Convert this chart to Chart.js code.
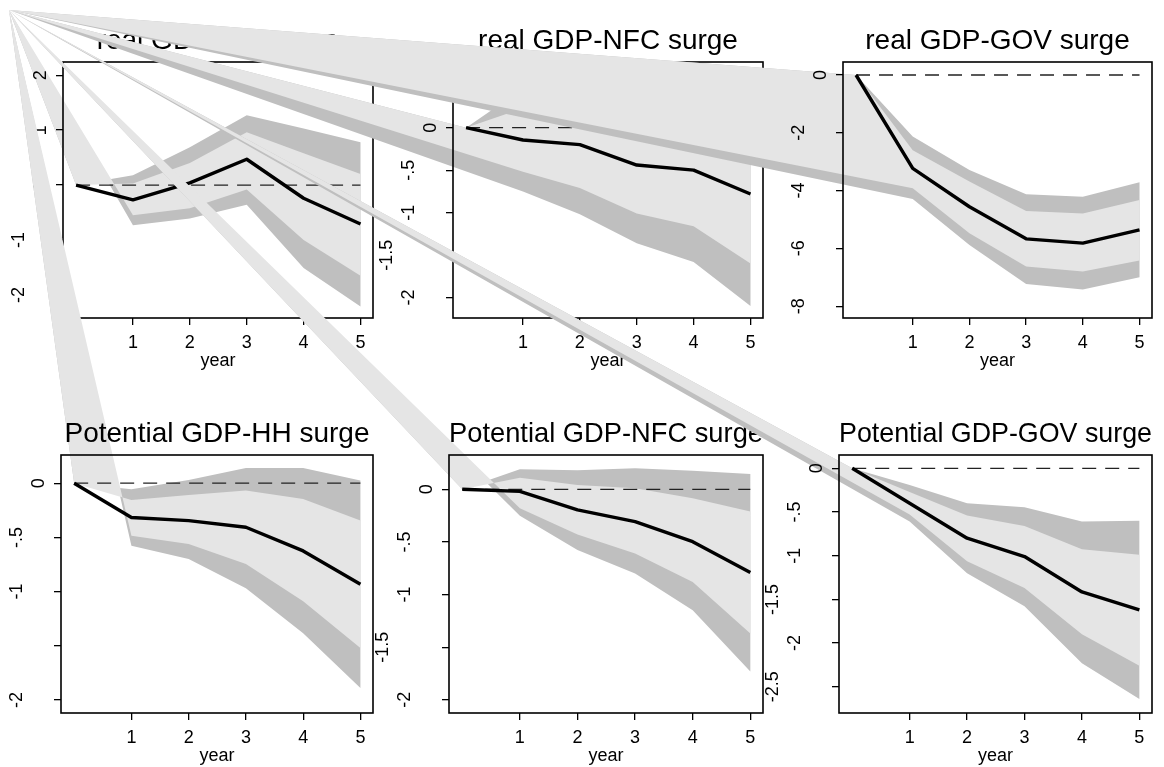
<!DOCTYPE html>
<html>
<head>
<meta charset="utf-8">
<script src="https://cdn.jsdelivr.net/npm/chart.js@4.4.1/dist/chart.umd.min.js"></script>
<style>
  html, body { margin: 0; padding: 0; background: #fff; }
  #wrap { position: relative; width: 1164px; height: 767px; overflow: hidden; }
  #wrap canvas { position: absolute; left: 0; top: 0; }
</style>
</head>
<body>
<div id="wrap"></div>
<script>
// horizon (years after the surge)
const years = [0, 1, 2, 3, 4, 5];
const xTicks = [1, 2, 3, 4, 5];

// real GDP - HH surge
const realHH = [0, -0.27, 0.04, 0.47, -0.24, -0.71];
const realHH_inHi = [0, 0.03, 0.40, 0.96, 0.58, 0.20];
const realHH_inLo = [0, -0.55, -0.42, -0.08, -1.00, -1.65];
const realHH_outHi = [0, 0.18, 0.69, 1.27, 1.03, 0.78];
const realHH_outLo = [0, -0.73, -0.61, -0.36, -1.51, -2.21];
const realHH_yTicks = [2, 1, 0, -1, -2];

// real GDP - NFC surge
const realNFC = [0, -0.145, -0.20, -0.44, -0.50, -0.78];
const realNFC_inHi = [0, 0.23, 0.31, 0.13, 0.16, 0.04];
const realNFC_inLo = [0, -0.52, -0.71, -1.01, -1.16, -1.60];
const realNFC_outHi = [0, 0.46, 0.62, 0.48, 0.58, 0.54];
const realNFC_outLo = [0, -0.75, -1.02, -1.36, -1.58, -2.10];
const realNFC_yTicks = [0, -0.5, -1, -1.5, -2];

// real GDP - GOV surge
const realGOV = [0, -3.23, -4.56, -5.67, -5.82, -5.36];
const realGOV_inHi = [0, -2.60, -3.69, -4.71, -4.79, -4.33];
const realGOV_inLo = [0, -3.92, -5.48, -6.63, -6.80, -6.42];
const realGOV_outHi = [0, -2.13, -3.29, -4.13, -4.21, -3.71];
const realGOV_outLo = [0, -4.29, -5.88, -7.23, -7.42, -7.00];
const realGOV_yTicks = [0, -2, -4, -6, -8];

// potential GDP - HH surge
const potHH = [0, -0.317, -0.345, -0.406, -0.625, -0.932];
const potHH_inHi = [0, -0.154, -0.108, -0.068, -0.145, -0.345];
const potHH_inLo = [0, -0.486, -0.56, -0.745, -1.09, -1.52];
const potHH_outHi = [0, -0.055, 0.03, 0.14, 0.14, 0.025];
const potHH_outLo = [0, -0.578, -0.70, -0.97, -1.385, -1.89];
const potHH_yTicks = [0, -0.5, -1, -1.5, -2];

// potential GDP - NFC surge
const potNFC = [0, -0.02, -0.196, -0.307, -0.497, -0.79];
const potNFC_inHi = [0, 0.11, 0.04, 0.01, -0.085, -0.21];
const potNFC_inLo = [0, -0.18, -0.43, -0.61, -0.88, -1.37];
const potNFC_outHi = [0, 0.19, 0.18, 0.20, 0.177, 0.146];
const potNFC_outLo = [0, -0.25, -0.576, -0.80, -1.15, -1.73];
const potNFC_yTicks = [0, -0.5, -1, -1.5, -2];

// potential GDP - GOV surge
const potGOV = [0, -0.40, -0.80, -1.01, -1.415, -1.62];
const potGOV_inHi = [0, -0.27, -0.54, -0.66, -0.925, -0.99];
const potGOV_inLo = [0, -0.53, -1.065, -1.37, -1.90, -2.26];
const potGOV_outHi = [0, -0.19, -0.40, -0.445, -0.61, -0.60];
const potGOV_outLo = [0, -0.61, -1.20, -1.58, -2.23, -2.64];
const potGOV_yTicks = [0, -0.5, -1, -1.5, -2, -2.5];

const FONT = '"Liberation Sans", Arial, Helvetica, sans-serif';
const DARK = '#bfbfbf';
const LIGHT = '#e5e5e5';
// the source figure closes every band polygon at the figure corner, not at year 0
const APEX = { x: 9, y: 10 };
const X_AXIS_H = 54;
const TITLE_H = 28 * 1.2 + 4;

const panels = [
  { title: 'real GDP-HH surge', irf: realHH, inHi: realHH_inHi, inLo: realHH_inLo, outHi: realHH_outHi, outLo: realHH_outLo, yTicks: realHH_yTicks, yMin: -2.42, yMax: 2.24, box: [63, 62, 373, 318] },
  { title: 'real GDP-NFC surge', irf: realNFC, inHi: realNFC_inHi, inLo: realNFC_inLo, outHi: realNFC_outHi, outLo: realNFC_outLo, yTicks: realNFC_yTicks, yMin: -2.24, yMax: 0.773, box: [453, 62, 763, 318] },
  { title: 'real GDP-GOV surge', irf: realGOV, inHi: realGOV_inHi, inLo: realGOV_inLo, outHi: realGOV_outHi, outLo: realGOV_outLo, yTicks: realGOV_yTicks, yMin: -8.41, yMax: 0.45, box: [843, 62, 1152, 318] },
  { title: 'Potential GDP-HH surge', irf: potHH, inHi: potHH_inHi, inLo: potHH_inLo, outHi: potHH_outHi, outLo: potHH_outLo, yTicks: potHH_yTicks, yMin: -2.12, yMax: 0.26, box: [61, 455, 373, 713] },
  { title: 'Potential GDP-NFC surge', irf: potNFC, inHi: potNFC_inHi, inLo: potNFC_inLo, outHi: potNFC_outHi, outLo: potNFC_outLo, yTicks: potNFC_yTicks, yMin: -2.125, yMax: 0.326, box: [449, 455, 763, 713] },
  { title: 'Potential GDP-GOV surge', irf: potGOV, inHi: potGOV_inHi, inLo: potGOV_inLo, outHi: potGOV_outHi, outLo: potGOV_outLo, yTicks: potGOV_yTicks, yMin: -2.8, yMax: 0.152, box: [839, 455, 1152, 713] }
];

Chart.defaults.font.family = FONT;
Chart.defaults.color = '#000';

function fmt(v) {
  return String(v).replace('0.', '.');
}

function makePlugins(p) {
  return [{
    id: 'bands',
    beforeDraw(chart) {
      const { ctx, scales: { x, y } } = chart;
      const band = (hi, lo, color) => {
        ctx.beginPath();
        ctx.moveTo(x.getPixelForValue(years[0]), y.getPixelForValue(hi[0]));
        for (let i = 1; i < years.length; i++) ctx.lineTo(x.getPixelForValue(years[i]), y.getPixelForValue(hi[i]));
        for (let i = years.length - 1; i >= 1; i--) ctx.lineTo(x.getPixelForValue(years[i]), y.getPixelForValue(lo[i]));
        ctx.lineTo(APEX.x, APEX.y);
        ctx.closePath();
        ctx.fillStyle = color;
        ctx.fill();
      };
      ctx.save();
      band(p.outHi, p.outLo, DARK);
      band(p.inHi, p.inLo, LIGHT);
      ctx.restore();
    }
  }, {
    id: 'frameAndLabels',
    afterDraw(chart) {
      const { ctx, chartArea: a, scales: { y } } = chart;
      ctx.save();
      ctx.strokeStyle = '#000';
      ctx.lineWidth = 1.6;
      ctx.strokeRect(a.left, a.top, a.right - a.left, a.bottom - a.top);
      ctx.font = '18px ' + FONT;
      ctx.fillStyle = '#000';
      ctx.textAlign = 'center';
      ctx.textBaseline = 'middle';
      p.yTicks.forEach(v => {
        const s = fmt(v);
        const w = ctx.measureText(s).width;
        // longer labels sit further left, as in the source figure
        const off = 22 + 22 * Math.round((w - 9.5) / 10);
        ctx.save();
        ctx.translate(a.left - off, y.getPixelForValue(v));
        ctx.rotate(-Math.PI / 2);
        ctx.fillText(s, 0, 0);
        ctx.restore();
      });
      ctx.restore();
    }
  }];
}

const wrap = document.getElementById('wrap');
panels.forEach(p => {
  const canvas = document.createElement('canvas');
  canvas.width = 1164;
  canvas.height = 767;
  wrap.appendChild(canvas);
  const [l, t, r, b] = p.box;
  new Chart(canvas.getContext('2d'), {
    type: 'line',
    data: {
      datasets: [
        {
          data: years.map((yr, i) => ({ x: yr, y: p.irf[i] })),
          borderColor: '#000',
          borderWidth: 3.4,
          borderJoinStyle: 'round',
          pointRadius: 0,
          tension: 0,
          order: 0
        },
        {
          data: years.map(yr => ({ x: yr, y: 0 })),
          borderColor: '#222',
          borderWidth: 1.3,
          borderDash: [14, 9],
          pointRadius: 0,
          tension: 0,
          order: 1
        }
      ]
    },
    options: {
      responsive: false,
      animation: false,
      events: [],
      layout: {
        padding: { left: l - 7, top: t - TITLE_H, right: 1164 - r, bottom: 767 - b - X_AXIS_H }
      },
      plugins: {
        legend: { display: false },
        tooltip: { enabled: false },
        title: {
          display: true,
          text: p.title,
          fullSize: false,
          color: '#000',
          font: { size: 28, weight: 'normal', family: FONT },
          padding: { top: 0, bottom: 4 }
        }
      },
      scales: {
        x: {
          type: 'linear',
          min: -0.23,
          max: 5.22,
          afterBuildTicks: s => { s.ticks = xTicks.map(v => ({ value: v })); },
          afterFit: s => { s.height = X_AXIS_H; },
          grid: { drawOnChartArea: false, drawTicks: true, tickLength: 7, color: '#000', lineWidth: 1.3 },
          border: { display: false },
          ticks: { color: '#000', font: { size: 18 }, padding: 7, maxRotation: 0, autoSkip: false },
          title: { display: true, text: 'year', color: '#000', font: { size: 18 }, padding: { top: 0, bottom: 0 } }
        },
        y: {
          type: 'linear',
          min: p.yMin,
          max: p.yMax,
          afterBuildTicks: s => { s.ticks = p.yTicks.map(v => ({ value: v })); },
          afterFit: s => { s.width = 7; },
          grid: { drawOnChartArea: false, drawTicks: true, tickLength: 7, color: '#000', lineWidth: 1.3 },
          border: { display: false },
          ticks: { display: false }
        }
      }
    },
    plugins: makePlugins(p)
  });
});
</script>
</body>
</html>
